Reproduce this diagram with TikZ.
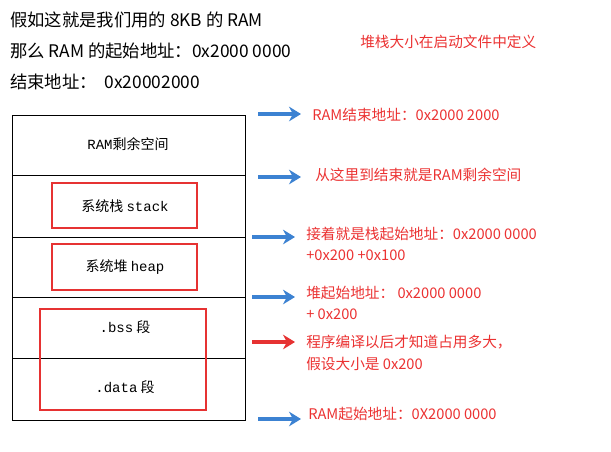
\documentclass[tikz,border=0pt]{standalone}
\usepackage{fontspec}
\setmainfont{Noto Sans CJK SC}
\newfontfamily\monof{Liberation Mono}
\usetikzlibrary{arrows.meta}
\definecolor{rtxt}{RGB}{235,50,50}
\definecolor{rbox}{RGB}{230,50,50}
\definecolor{barr}{RGB}{60,130,210}
\tikzset{
  big/.style={anchor=west,font=\fontsize{13}{15}\selectfont,inner sep=0},
  note/.style={anchor=west,font=\fontsize{11}{13}\selectfont,text=rtxt,inner sep=0},
  cell/.style={font=\fontsize{10.5}{12}\selectfont,inner sep=0},
  redbox/.style={draw=rbox,line width=1.8pt},
  barrow/.style={draw=barr,line width=3pt,-{Stealth[length=9pt,width=11pt]}},
  rarrow/.style={draw=rbox,line width=3pt,-{Stealth[length=9pt,width=11pt]}},
}
\begin{document}
\begin{tikzpicture}[x=0.75pt,y=-0.75pt]
\useasboundingbox (0,0) rectangle (611,451);
\node[big] (l1) at (10,20) {假如这就是我们用的 8KB 的 RAM};
\node[big] (l2) at (10,51) {那么 RAM 的起始地址：0x2000 0000};
\node[big] (l3) at (10,82) {结束地址：\ \ 0x20002000};
\node[note] (n0) at (360,42) {堆栈大小在启动文件中定义};
\draw[line width=0.6pt] (12,115) rectangle (245,420);
\foreach \y in {175,237,297,358} \draw[line width=0.6pt] (12,\y) -- (245,\y);
\node[cell] (c1) at (128,144) {{\monof RAM}剩余空间};
\draw[redbox] (52,183) rectangle (197,228);
\node[cell] (c2) at (125,206) {系统栈 {\monof stack}};
\draw[redbox] (52,244) rectangle (197,290);
\node[cell] (c3) at (125,267) {系统堆 {\monof heap}};
\draw[redbox] (40,309) rectangle (206,410);
\node[cell] (c4) at (125,327) {{\monof .bss} 段};
\node[cell] (c5) at (125,387) {{\monof .data} 段};
\coordinate (a1s) at (258,114); \coordinate (a1e) at (301,114);
\draw[barrow] (a1s) -- (a1e);
\node[note] (t1) at (312,115) {RAM结束地址：0x2000 2000};
\coordinate (a2s) at (258,177); \coordinate (a2e) at (301,177);
\draw[barrow] (a2s) -- (a2e);
\node[note] (t2) at (315,175) {从这里到结束就是RAM剩余空间};
\coordinate (a3s) at (252,237); \coordinate (a3e) at (295,237);
\draw[barrow] (a3s) -- (a3e);
\node[note] (t3) at (306,234) {接着就是栈起始地址：0x2000 0000};
\node[note] (t3b) at (306,255) {+0x200 +0x100};
\coordinate (a4s) at (252,297); \coordinate (a4e) at (295,297);
\draw[barrow] (a4s) -- (a4e);
\node[note] (t4) at (306,293) {堆起始地址：\ 0x2000 0000};
\node[note] (t4b) at (306,314) {+ 0x200};
\coordinate (a5s) at (252,342); \coordinate (a5e) at (295,342);
\draw[rarrow] (a5s) -- (a5e);
\node[note] (t5) at (306,342) {程序编译以后才知道占用多大，};
\node[note] (t5b) at (306,364) {假设大小是 0x200};
\coordinate (a6s) at (258,419); \coordinate (a6e) at (301,419);
\draw[barrow] (a6s) -- (a6e);
\node[note] (t6) at (308,414) {RAM起始地址：0X2000 0000};
\end{tikzpicture}
\end{document}
